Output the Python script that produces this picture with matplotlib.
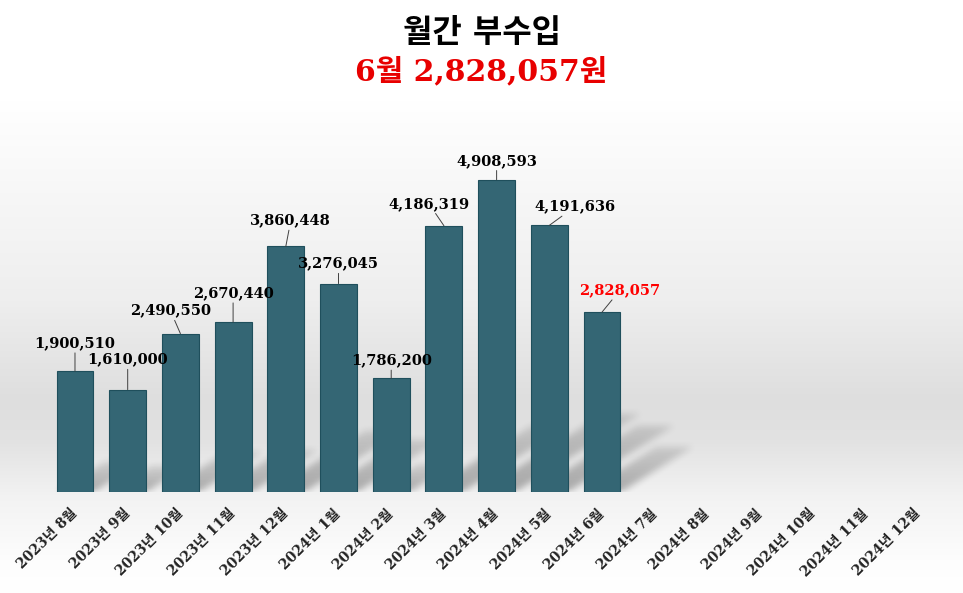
import numpy as np
import matplotlib as mpl
mpl.use('Agg')
import matplotlib.pyplot as plt

# data
months = ['2023년 8월', '2023년 9월', '2023년 10월', '2023년 11월', '2023년 12월',
          '2024년 1월', '2024년 2월', '2024년 3월', '2024년 4월', '2024년 5월',
          '2024년 6월', '2024년 7월', '2024년 8월', '2024년 9월', '2024년 10월',
          '2024년 11월', '2024년 12월']
income = [1900510, 1610000, 2490550, 2670440, 3860448, 3276045, 1786200,
          4186319, 4908593, 4191636, 2828057]
title_main = '월간 부수입'
title_sub = '6월 2,828,057원'

# label offsets (pixels) from bar top
label_offsets = [(0, 28), (0, 30), (-10, 23), (0, 29), (5, 26), (0, 20), (0, 18),
                 (-15, 22), (0, 19), (26, 19), (18, 22)]

fonts = ['DejaVu Serif', 'Noto Sans CJK KR']
bar_color = '#346674'
bar_w = 0.7
ymax = 5500000


def box_blur(img, k):
    kern = np.ones(k) / k
    img = np.apply_along_axis(lambda r: np.convolve(r, kern, mode='same'), 1, img)
    img = np.apply_along_axis(lambda c: np.convolve(c, kern, mode='same'), 0, img)
    return img


fig = plt.figure(figsize=(9.63, 5.93), dpi=100)

# background gradient
bg = fig.add_axes([0, 0, 1, 1], zorder=-10)
stops_y = [0, 100, 180, 300, 400, 440, 495, 560, 593]
stops_c = [255, 255, 248, 238, 222, 226, 242, 253, 255]
col = np.interp(np.arange(593), stops_y, stops_c) / 255.0
grad = np.repeat(col[:, None], 10, axis=1)
bg.imshow(np.dstack([grad, grad, grad]), aspect='auto', extent=[0, 1, 0, 1])
bg.axis('off')

ax_pos = [0.0505, 0.1703, 0.9304, 0.590]
ax = fig.add_axes(ax_pos)
ax.patch.set_alpha(0)
x = np.arange(len(months))
xb = x[:len(income)]
ax.bar(xb, income, width=bar_w, color=bar_color, edgecolor='#1f4f5c',
       linewidth=0.8, zorder=3)

# soft perspective shadows, rendered as a blurred mask in axes space
W, H = int(ax_pos[2] * 963), int(ax_pos[3] * 593)
gx = -0.5 + (np.arange(W) + 0.5) / W * len(months)
gy = (np.arange(H) + 0.5) / H * ymax
GX, GY = np.meshgrid(gx, gy)
px_x = W / len(months)
px_y = H / ymax
shadow = np.zeros((H, W))
for xi, v in zip(xb, income):
    dx = 0.40 * v * px_y / px_x
    dy = 0.25 * v
    t = GY / dy
    inside = (t <= 1) & (GX >= xi - bar_w / 2 + dx * t) & (GX <= xi + bar_w / 2 + dx * t)
    shadow = np.maximum(shadow, inside * (1 - 0.6 * np.clip(t, 0, 1)))
shadow = box_blur(box_blur(shadow, 9), 7)
rgba = np.zeros((H, W, 4))
rgba[..., 3] = shadow * 0.30
ax.imshow(rgba, origin='lower', extent=[-0.5, len(months) - 0.5, 0, ymax],
          aspect='auto', zorder=1, interpolation='bilinear')

for i, v in enumerate(income):
    dx, dy = label_offsets[i]
    c = 'red' if i == len(income) - 1 else 'black'
    ax.annotate(f'{v:,}', xy=(xb[i], v), xytext=(dx, dy), textcoords='offset pixels',
                ha='center', va='center', fontsize=10.5, fontweight='bold',
                family='DejaVu Serif', color=c, zorder=5,
                arrowprops=dict(arrowstyle='-', color='#404040', lw=0.7,
                                shrinkA=0, shrinkB=0))

ax.set_xlim(-0.5, len(months) - 0.5)
ax.set_ylim(0, ymax)
ax.set_xticks(x)
ax.set_xticklabels(months, rotation=45, ha='right', va='center',
                   rotation_mode='anchor', fontsize=10, fontweight='bold',
                   family=fonts, color='#222222')
ax.tick_params(axis='x', length=0, pad=14)
ax.set_yticks([])
for s in ax.spines.values():
    s.set_visible(False)

fig.text(0.5, 0.943, title_main, ha='center', va='center', fontsize=23,
         fontweight='bold', family=fonts, color='black')
fig.text(0.5, 0.880, title_sub, ha='center', va='center', fontsize=21.5,
         fontweight='bold', family=fonts, color='#e80000')

fig.savefig('out.png', dpi=100)
